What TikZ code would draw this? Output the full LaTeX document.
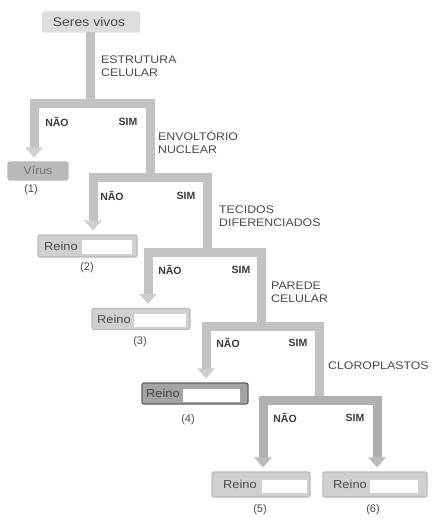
\documentclass[tikz,border=0pt]{standalone}
\usepackage{fontspec}
\setmainfont{Liberation Sans}
\newfontfamily\labfont[FakeStretch=1.12]{Liberation Sans}
\usetikzlibrary{arrows.meta}
\definecolor{linegray}{HTML}{C2C2C2}
\definecolor{linedark}{HTML}{B0B0B0}
\definecolor{boxgray}{HTML}{D0D0D0}
\definecolor{boxedge}{HTML}{BABABA}
\definecolor{txtgray}{HTML}{4A4A4A}
\tikzset{
  branch/.style={draw=linegray, line width=9pt, line join=miter, line cap=butt},
  darkbranch/.style={branch, draw=linedark},
  tipped/.style={-{Triangle[width=17pt,length=10pt,fill=linegray!80,color=linegray!80]}, shorten >=4pt},
  darktipped/.style={-{Triangle[width=17pt,length=10pt,fill=linedark!85,color=linedark!85]}, shorten >=4pt},
  graybox/.style={draw=boxedge, fill=boxgray, line width=1.2pt, rounded corners=2pt, inner sep=0pt},
  field/.style={fill=white, draw=none, inner sep=0pt},
  reino/.style={text=txtgray, font=\labfont\fontsize{11.5}{13}\selectfont, inner sep=0pt},
  question/.style={text=txtgray, font=\labfont\fontsize{11}{13}\selectfont, align=left, anchor=west, inner sep=0pt},
  answer/.style={text=txtgray!80!black, font=\bfseries\fontsize{10.5}{12}\selectfont, inner sep=0pt},
  number/.style={text=txtgray, font=\fontsize{11}{12}\selectfont, inner sep=0pt},
}
\begin{document}
\begin{tikzpicture}[x=1pt,y=-1pt]
\useasboundingbox (0,0) rectangle (441,526);
% boxes
\node[graybox, fill=black!13, draw=black!13, minimum width=97pt, minimum height=20pt] (seres) at (91,22) {};
\node[reino, font=\labfont\fontsize{12.5}{14}\selectfont] (serest) at (89,22) {Seres vivos};

\node[graybox, fill=black!27, draw=black!27, minimum width=60pt, minimum height=18pt] (virus) at (38,171) {};
\node[reino, text=black!55, font=\labfont\fontsize{11}{13}\selectfont] (virust) at (38,171) {Vírus};
\node[number] (n1) at (31,190) {(1)};

\node[graybox, minimum width=99pt, minimum height=22pt] (r2) at (87.5,246) {};
\node[reino] (r2t) at (61,246) {Reino};
\node[field, minimum width=50pt, minimum height=14pt] (r2f) at (107,247) {};
\node[number] (n2) at (87,268) {(2)};

\node[graybox, minimum width=98pt, minimum height=21pt] (r3) at (141,319) {};
\node[reino] (r3t) at (114,319) {Reino};
\node[field, minimum width=52pt, minimum height=13pt] (r3f) at (160,320) {};
\node[number] (n3) at (140,342) {(3)};

\node[graybox, fill=black!36, draw=black!62, minimum width=106pt, minimum height=21pt] (r4) at (195,393.5) {};
\node[reino, text=black!72] (r4t) at (163,393.5) {Reino};
\node[field, minimum width=57pt, minimum height=13pt] (r4f) at (211.5,395) {};
\node[number] (n4) at (188,420) {(4)};

\node[graybox, minimum width=98pt, minimum height=25pt] (r5) at (261,484.5) {};
\node[reino] (r5t) at (240,484.5) {Reino};
\node[field, minimum width=45pt, minimum height=13pt] (r5f) at (284.5,486.5) {};
\node[number] (n5) at (260,510) {(5)};

\node[graybox, minimum width=104pt, minimum height=25pt] (r6) at (375,484.5) {};
\node[reino] (r6t) at (350,484.5) {Reino};
\node[field, minimum width=48pt, minimum height=13pt] (r6f) at (394,486.5) {};
\node[number] (n6) at (373,510) {(6)};

% junctions
\coordinate (j1) at (90,104);
\coordinate (j2) at (150,178);
\coordinate (j3) at (207,252);
\coordinate (j4) at (261,326);
\coordinate (j5) at (319,400);
\coordinate (s1) at (90,32);

% connectors
\draw[branch] (s1) -- (j1);
\draw[branch, tipped] (j1) -| (34,0 |- virus.north);
\draw[branch] (j1) -| (j2);
\draw[branch, tipped] (j2) -| (93,0 |- r2.north);
\draw[branch] (j2) -| (j3);
\draw[branch, tipped] (j3) -| (148,0 |- r3.north);
\draw[branch] (j3) -| (j4);
\draw[branch, tipped] (j4) -| (206,0 |- r4.north);
\draw[branch] (j4) -| (j5);
\draw[darkbranch, darktipped] (j5) -| (263,0 |- r5.north);
\draw[darkbranch, darktipped] (j5) -| (377,0 |- r6.north);

% questions
\node[question] (q1) at (101,66) {ESTRUTURA\\CELULAR};
\node[question] (q2) at (158,142) {ENVOLTÓRIO\\NUCLEAR};
\node[question] (q3) at (219,216) {TECIDOS\\DIFERENCIADOS};
\node[question] (q4) at (271,292) {PAREDE\\CELULAR};
\node[question] (q5) at (328,366) {CLOROPLASTOS};

% answers
\node[answer] (a1n) at (57,122) {NÃO};
\node[answer] (a1s) at (128,122) {SIM};
\node[answer] (a2n) at (112,196) {NÃO};
\node[answer] (a2s) at (186,196) {SIM};
\node[answer] (a3n) at (170,270) {NÃO};
\node[answer] (a3s) at (241,270) {SIM};
\node[answer] (a4n) at (228,343) {NÃO};
\node[answer] (a4s) at (298,343) {SIM};
\node[answer] (a5n) at (285,418) {NÃO};
\node[answer] (a5s) at (355,418) {SIM};
\end{tikzpicture}
\end{document}
